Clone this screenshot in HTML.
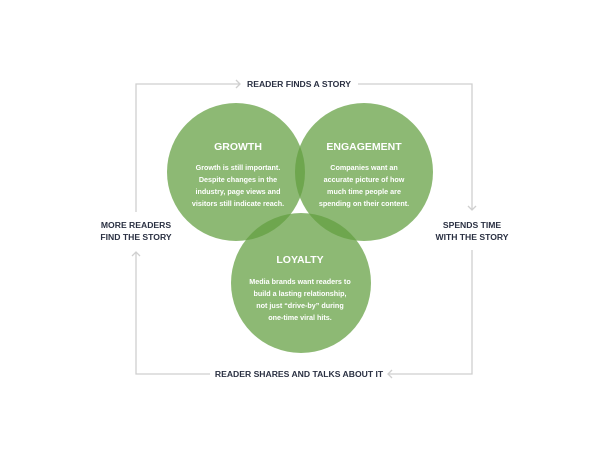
<!DOCTYPE html>
<html><head><style>
body{margin:0;width:600px;height:450px;background:#fff;overflow:hidden}
</style></head><body>
<svg width="600" height="450" xmlns="http://www.w3.org/2000/svg" font-family="Liberation Sans, sans-serif">
<g fill="none" stroke="#cfcfcf" stroke-width="1.3">
<polyline points="136,212 136,84 240,84"/>
<polyline points="236,80 240,84 236,88"/>
<polyline points="358,84 472,84 472,210"/>
<polyline points="468,206 472,210 476,206"/>
<polyline points="472,250 472,374 388,374"/>
<polyline points="392,370 388,374 392,378"/>
<polyline points="210,374 136,374 136,252"/>
<polyline points="132,256 136,252 140,256"/>
</g>
<g fill="rgb(99,159,65)" fill-opacity="0.73">
<circle cx="236" cy="172" r="69"/>
<circle cx="364" cy="172" r="69"/>
<circle cx="301" cy="283" r="70"/>
</g>
<g fill="#2a3042" font-weight="bold" font-size="8.6" text-anchor="middle">
<text x="299" y="87">READER FINDS A STORY</text>
<text x="136" y="228">MORE READERS</text>
<text x="136" y="240">FIND THE STORY</text>
<text x="472" y="228">SPENDS TIME</text>
<text x="472" y="240">WITH THE STORY</text>
<text x="299" y="377">READER SHARES AND TALKS ABOUT IT</text>
</g>
<g fill="#fff" text-anchor="middle">
<g font-weight="bold" font-size="10.5">
<text x="238" y="150">GROWTH</text>
<text x="364" y="150">ENGAGEMENT</text>
<text x="300" y="263">LOYALTY</text>
</g>
<g font-size="7.2" font-weight="bold">
<text x="238" y="170">Growth is still important.</text>
<text x="238" y="182">Despite changes in the</text>
<text x="238" y="194">industry, page views and</text>
<text x="238" y="206">visitors still indicate reach.</text>
<text x="364" y="170">Companies want an</text>
<text x="364" y="182">accurate picture of how</text>
<text x="364" y="194">much time people are</text>
<text x="364" y="206">spending on their content.</text>
<text x="300" y="284">Media brands want readers to</text>
<text x="300" y="296">build a lasting relationship,</text>
<text x="300" y="308">not just “drive-by” during</text>
<text x="300" y="320">one-time viral hits.</text>
</g>
</g>
</svg>
</body></html>
